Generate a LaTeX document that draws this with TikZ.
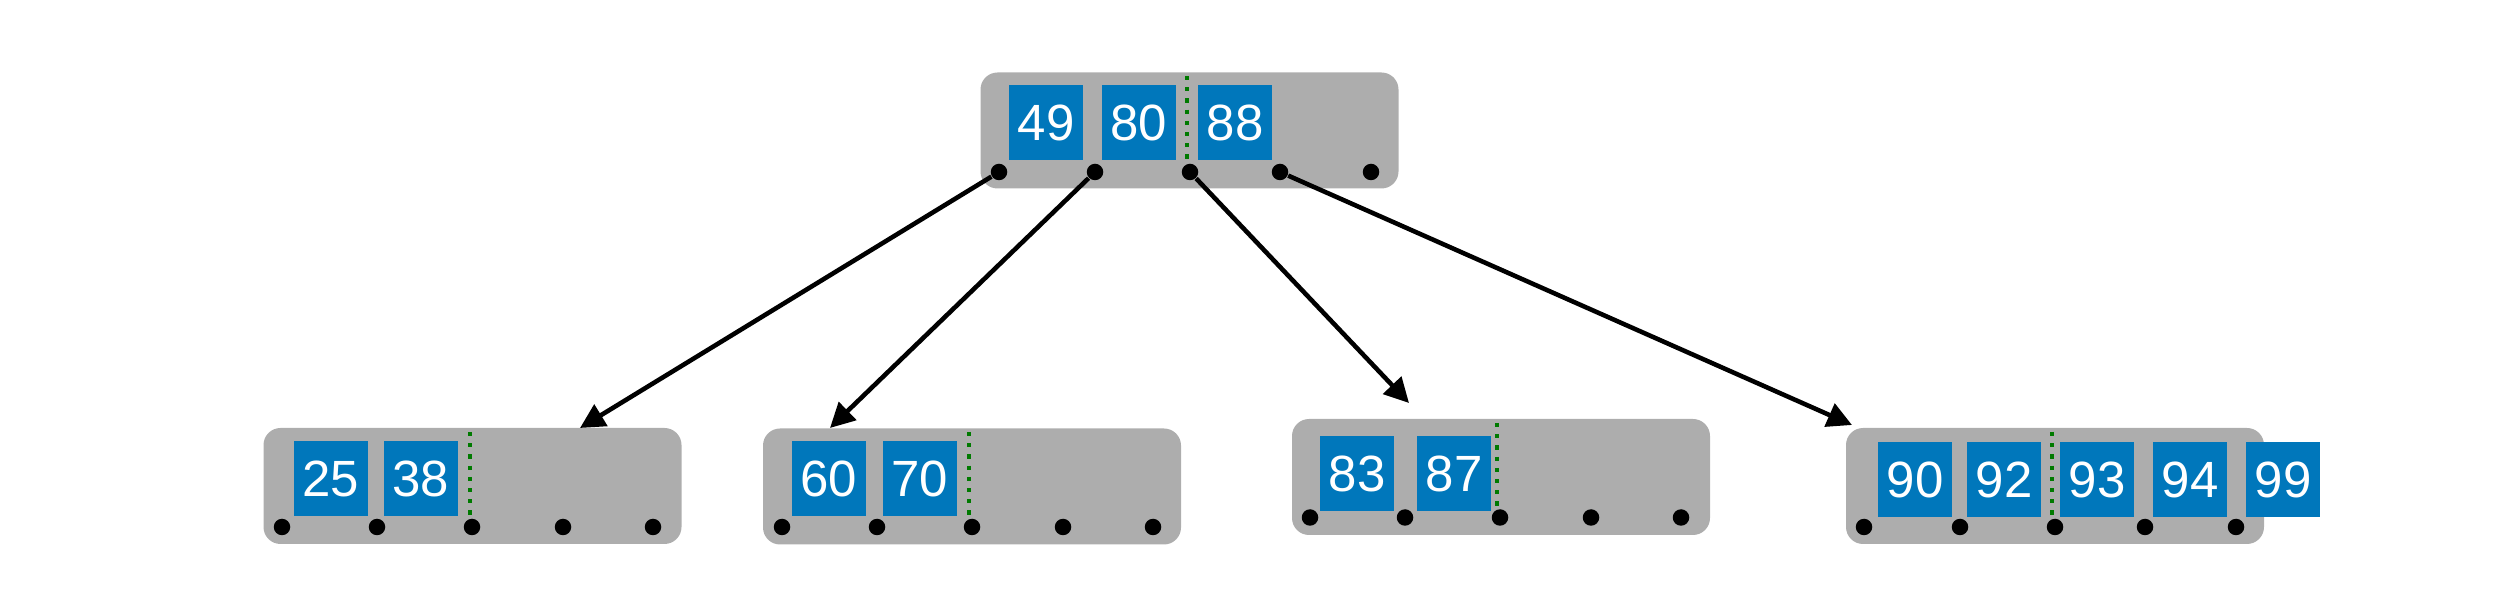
\documentclass[tikz,border=0pt]{standalone}
\usepackage{fontspec}
\setmainfont{Liberation Sans}
\usetikzlibrary{arrows.meta}
\definecolor{keyblue}{RGB}{0,119,187}
\definecolor{boxgray}{RGB}{173,173,173}
\definecolor{splitgreen}{RGB}{0,122,0}

\begin{document}
\begin{tikzpicture}[Box/.style={rectangle, fill=boxgray, rounded corners=0.17cm, minimum width=4.18cm, minimum height=1.16cm, inner sep=0pt},
    Key/.style={rectangle, fill=keyblue, text=white, minimum width=0.74cm, minimum height=0.75cm, inner sep=0pt, font=\fontsize{14.5}{16}\selectfont},
    Dot/.style={circle, fill=black, inner sep=0pt, minimum size=0.165cm},
    Split/.style={splitgreen, line width=0.045cm, dash pattern=on 0.042cm off 0.07cm}]
        % \draw[help lines, gray] (0,0) grid (25,6);
        \useasboundingbox (0,0) rectangle (25.10,6.06);

        % root
        \node[Box] (R) at (11.895, 4.755){};
        \node[Key] (k49) at (10.46, 4.83){49};
        \node[Key] (k80) at (11.39, 4.83){80};
        \node[Key] (k88) at (12.35, 4.83){88};
        \draw[Split] (11.87, 5.30) -- (11.87, 4.46);
        \node[Dot] (R1) at (9.99, 4.34){};
        \node[Dot] (R2) at (10.95, 4.34){};
        \node[Dot] (R3) at (11.90, 4.34){};
        \node[Dot] (R4) at (12.80, 4.34){};
        \node[Dot] (R5) at (13.71, 4.34){};

        % leaves
        \node[Box] (A) at (4.725, 1.20){};
        \node[Key] (k25) at (3.31, 1.27){25};
        \node[Key] (k38) at (4.21, 1.27){38};
        \draw[Split] (4.70, 1.74) -- (4.70, 0.91);
        \node[Dot] (A1) at (2.82, 0.79){};
        \node[Dot] (A2) at (3.77, 0.79){};
        \node[Dot] (A3) at (4.72, 0.79){};
        \node[Dot] (A4) at (5.63, 0.79){};
        \node[Dot] (A5) at (6.53, 0.79){};

        \node[Box] (B) at (9.72, 1.195){};
        \node[Key] (k60) at (8.29, 1.27){60};
        \node[Key] (k70) at (9.20, 1.27){70};
        \draw[Split] (9.69, 1.74) -- (9.69, 0.91);
        \node[Dot] (B1) at (7.82, 0.79){};
        \node[Dot] (B2) at (8.77, 0.79){};
        \node[Dot] (B3) at (9.72, 0.79){};
        \node[Dot] (B4) at (10.63, 0.79){};
        \node[Dot] (B5) at (11.53, 0.79){};

        \node[Box] (C) at (15.01, 1.29){};
        \node[Key] (k83) at (13.57, 1.32){83};
        \node[Key] (k87) at (14.54, 1.32){87};
        \draw[Split] (14.97, 1.83) -- (14.97, 0.99);
        \node[Dot] (C1) at (13.10, 0.885){};
        \node[Dot] (C2) at (14.05, 0.885){};
        \node[Dot] (C3) at (15.00, 0.885){};
        \node[Dot] (C4) at (15.91, 0.885){};
        \node[Dot] (C5) at (16.81, 0.885){};

        \node[Box] (D) at (20.55, 1.20){};
        \node[Key] (k90) at (19.15, 1.265){90};
        \node[Key] (k92) at (20.04, 1.265){92};
        \node[Key] (k93) at (20.97, 1.265){93};
        \node[Key] (k94) at (21.90, 1.265){94};
        \node[Key] (k99) at (22.83, 1.265){99};
        \draw[Split] (20.52, 1.74) -- (20.52, 0.91);
        \node[Dot] (D1) at (18.64, 0.79){};
        \node[Dot] (D2) at (19.60, 0.79){};
        \node[Dot] (D3) at (20.55, 0.79){};
        \node[Dot] (D4) at (21.45, 0.79){};
        \node[Dot] (D5) at (22.36, 0.79){};

        \coordinate (tA) at (5.80, 1.78);
        \coordinate (tB) at (8.30, 1.78);
        \coordinate (tC) at (14.09, 2.03);
        \coordinate (tD) at (18.52, 1.81);

        \draw[-{Triangle[length=7pt, width=7pt]}, line width=1.3pt] (R1) -- (tA);
        \draw[-{Triangle[length=7pt, width=7pt]}, line width=1.3pt] (R2) -- (tB);
        \draw[-{Triangle[length=7pt, width=7pt]}, line width=1.3pt] (R3) -- (tC);
        \draw[-{Triangle[length=7pt, width=7pt]}, line width=1.3pt] (R4) -- (tD);

    \end{tikzpicture}
\end{document}
